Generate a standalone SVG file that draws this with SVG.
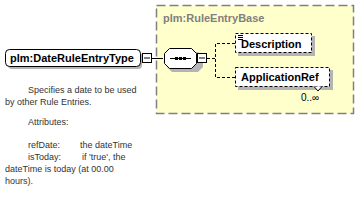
<svg xmlns="http://www.w3.org/2000/svg" width="362" height="200" viewBox="0 0 362 200">
<style>
.lbl{font-family:"Liberation Sans",Arial,sans-serif;font-weight:bold;font-size:11px;fill:#000}
.ttl{font-family:"Liberation Sans",Arial,sans-serif;font-weight:bold;font-size:11px;fill:#808080}
.doc{font-family:"Liberation Sans",Arial,sans-serif;font-size:9px;fill:#333}
.shadow{fill:#b4b4b4}
.solid{fill:#fff;stroke:#000;stroke-width:1}
.dash{fill:#fff;stroke:#000;stroke-width:1;stroke-dasharray:3,2}
.conn{fill:none;stroke:#000;stroke-width:1}
.dconn{fill:none;stroke:#000;stroke-width:1;stroke-dasharray:3,2}
</style>
<rect width="362" height="200" fill="#fff"/>
<g id="base">
<rect x="156.5" y="5.5" width="197" height="108" fill="#ffffcc" stroke="#808080" stroke-width="1.5" stroke-dasharray="9,4"/>
<text class="ttl" x="163" y="22">plm:RuleEntryBase</text>
</g>
<g id="connectors">
<line class="conn" x1="152" y1="58.5" x2="163" y2="58.5"/>
<path class="dconn" d="M207 58.5H215.5M235 43.5H215.5V77.5H235"/>
</g>
<g id="main">
<rect class="shadow" x="8" y="52" width="134" height="17" rx="4"/>
<rect class="solid" x="5.5" y="49.5" width="135" height="17" rx="4"/>
<text class="lbl" x="10" y="62">plm:DateRuleEntryType</text>
<rect class="solid" x="142.5" y="53.5" width="9" height="9"/>
<line class="conn" x1="144" y1="58" x2="150" y2="58"/>
</g>
<g id="sequence">
<path class="shadow" d="M172 52H198L203 57V67L198 72H172L167 67V57Z"/>
<path class="solid" d="M169.5 48.5H191.5L196.5 53.5V63.5L191.5 68.5H169.5L164.5 63.5V53.5Z"/>
<line class="conn" x1="170" y1="58.5" x2="191" y2="58.5"/>
<rect x="175" y="57" width="3" height="3" fill="#000"/>
<rect x="179" y="57" width="3" height="3" fill="#000"/>
<rect x="183" y="57" width="3" height="3" fill="#000"/>
<rect class="solid" x="197.5" y="53.5" width="9" height="9"/>
<line class="conn" x1="199" y1="58" x2="205" y2="58"/>
</g>
<g id="description">
<rect class="shadow" x="238" y="36" width="77" height="20"/>
<rect class="dash" x="235.5" y="33.5" width="76" height="19"/>
<path d="M238 35.5H243M238 37.5H243M238 39.5H243" stroke="#000" stroke-width="1"/>
<text class="lbl" x="241" y="48">Description</text>
</g>
<g id="applicationref">
<rect class="shadow" x="238" y="70" width="95" height="20"/>
<rect class="dash" x="235.5" y="67.5" width="94" height="19"/>
<path d="M314 86.5L318 91L322 86.5" fill="#fff" stroke="#000" stroke-width="1"/>
<text class="lbl" x="241" y="81">ApplicationRef</text>
<text class="doc" x="301" y="101" style="font-size:10px;fill:#000">0..∞</text>
</g>
<g id="doc">
<text class="doc" x="28" y="93">Specifies a date to be used</text>
<text class="doc" x="5" y="105">by other Rule Entries.</text>
<text class="doc" x="28" y="125">Attributes:</text>
<text class="doc" x="28" y="148">refDate:</text>
<text class="doc" x="80" y="148">the dateTime</text>
<text class="doc" x="28" y="160">isToday:</text>
<text class="doc" x="82" y="160">if 'true', the</text>
<text class="doc" x="5" y="172">dateTime is today (at 00.00</text>
<text class="doc" x="5" y="184">hours).</text>
</g>
</svg>
